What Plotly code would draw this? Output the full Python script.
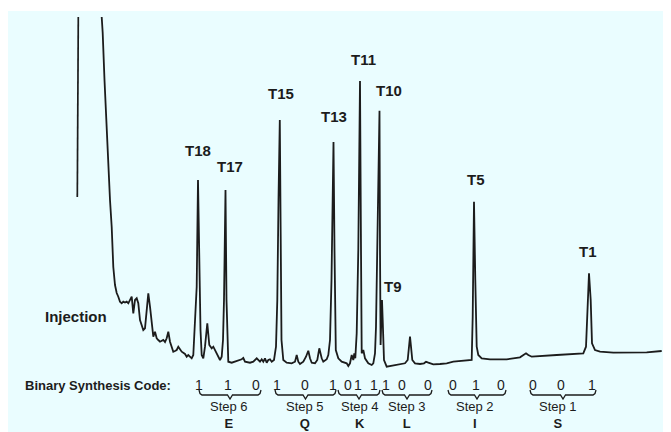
import plotly.graph_objects as go

# ---------------- data (retention position, detector signal) ----------------
time = [101.7, 102.7, 104.5, 106.7, 108.5, 110, 111.7, 113.3, 115, 116.7, 118.3, 120, 121.7, 123.3, 125,
        126.7, 128.3, 130, 131.7, 133.3, 135, 136.7, 138.3, 140, 141.7, 143.3, 145, 146.7, 148.3, 150,
        151.7, 153.3, 155, 156.7, 158.3, 160, 163.3, 165, 166.7, 168.3, 170, 173.3, 175, 176.7, 178.3,
        180, 181.7, 185, 186.7, 188.3, 191.7, 193.3, 195, 196.7, 198, 199.3, 200.5, 201.7, 203.3, 205,
        207.3, 209.3, 211.7, 213.3, 216.7, 220, 221.7, 223, 224, 225.5, 226.5, 227.3, 228.3, 231.7, 235,
        238.3, 241.7, 243.3, 245, 250, 253.3, 256.7, 258.3, 260, 261.7, 263.3, 265, 266.7, 268.3, 270,
        271.7, 274, 276, 277.3, 278.5, 279.8, 280.8, 281.5, 283.3, 286.7, 291.7, 295, 296.7, 298.3, 300,
        303.3, 306, 308.3, 310, 311.7, 315, 317.3, 319.3, 320.7, 321.7, 323.3, 326.7, 328.3, 330, 331.5,
        333.5, 334.5, 335, 335.8, 338.3, 341.7, 346.7, 348.3, 350, 351.7, 353.3, 354.3, 355.3, 356.7,
        358.3, 360, 361, 361.5, 361.7, 363.3, 365, 368.3, 371.7, 373.3, 375, 376, 377.5, 379.5, 380,
        380.6, 381.3, 382, 382.7, 383.5, 384, 386.7, 390, 395, 400, 405, 407.7, 409, 410, 411, 412.3,
        415, 420, 424, 426, 428.3, 433.3, 440, 446.7, 453.3, 460, 465, 468.3, 471.7, 472.7, 474, 475.3,
        476.7, 478.3, 481.7, 490, 506.7, 520, 523.3, 526, 528.3, 531.7, 556.7, 583.3, 586, 587.7, 589,
        590.7, 592, 595, 600, 613.3, 630, 646.7, 661.7]
signal = [415, 399, 352, 299, 262, 232, 205, 165, 147, 139, 135.3, 130.3, 128.7, 130.3, 129.5,
          130.3, 128.7, 132, 135.3, 118.7, 132, 133.7, 128.7, 112, 106, 102, 103.7, 122, 138.7, 125.3,
          108.7, 95.3, 100.3, 93.7, 92, 90.3, 92, 90, 93.7, 100.3, 90.3, 80.3, 81, 82, 85.3,
          83, 80.3, 78, 75.3, 77, 73.7, 77, 108.7, 145.3, 252, 145.3, 102, 77, 73.7, 85.3,
          108.7, 87, 83.7, 85.3, 78.7, 72, 75.3, 92, 132, 242, 132, 87, 70.3, 69.3, 70.3,
          71.3, 72.7, 74, 70.3, 69.3, 70.3, 73.7, 72, 70.3, 72.7, 70.3, 73.7, 69.3, 72, 72.7,
          70.3, 72, 85.3, 132, 232, 312, 182, 92, 72, 69.3, 68.7, 70.3, 77, 70.3, 68,
          70.3, 75.3, 81.3, 73.7, 69.3, 68.7, 72, 83.7, 75.3, 73.7, 70.3, 72.7, 77, 92, 152,
          290, 182, 102, 82, 73.7, 70.3, 68.7, 66, 68.7, 77, 72, 78.7, 73.7, 98.7,
          182, 351, 182, 95.3, 78.7, 82, 73.7, 68.7, 67, 68.7, 78.7, 105.3, 182, 321.3, 182,
          87, 112, 132, 112, 82, 72, 65.3, 66, 67, 67.7, 68.7, 72, 85.3, 95.3, 85.3, 72,
          68.7, 68, 68.7, 70.3, 69.3, 67.7, 68, 68.7, 70.3, 71, 71, 72, 72, 115.3, 230.3, 152,
          85.3, 77, 73.7, 72.7, 72.7, 74.7, 77, 78.7, 77, 75.3, 77, 78.7, 85.3, 132, 158.7,
          132, 88.7, 82, 80.3, 79.3, 79.3, 79.7, 81]

# injection mark
inj_time = [78.3, 77.3]
inj_signal = [415, 235]

# peak labels
peak_names = ["T18", "T17", "T15", "T13", "T11", "T10", "T9", "T5", "T1"]
peak_time = [198.3, 229.5, 280.5, 333.7, 363.5, 388.7, 393, 476.3, 588]
peak_label_signal = [282, 266, 338.5, 316, 373, 341.7, 145.5, 252.5, 181]

# binary synthesis code (digit, position, anchor)
code_digits = ["1", "1", "0", "1", "0", "1", "0", "1", "1", "1", "0", "0", "0", "1", "0", "0", "0", "1"]
code_time = [199, 228, 256, 277, 305, 333, 348, 358, 379.5, 379.5, 402, 428, 453, 476, 501, 533, 561, 592]
code_anchor = ["center"] * 8 + ["right", "left"] + ["center"] * 8

# synthesis steps
step_names = ["Step 6", "Step 5", "Step 4", "Step 3", "Step 2", "Step 1"]
step_residues = ["E", "Q", "K", "L", "I", "S"]
step_start = [199, 275, 338, 382, 448, 530]
step_end = [261, 336, 380, 432, 506, 596]
step_label_time = [229, 305, 360, 406.5, 475, 558]

# ---------------- figure ----------------
INK = "#1c1c1c"
FONT = "Liberation Sans, Arial, Helvetica, sans-serif"
fig = go.Figure()

fig.add_trace(go.Scatter(x=time, y=signal, mode="lines",
                         line=dict(color=INK, width=1.8), hoverinfo="skip"))
fig.add_trace(go.Scatter(x=inj_time, y=inj_signal, mode="lines",
                         line=dict(color=INK, width=1.7), hoverinfo="skip"))

# braces
for x0, x1 in zip(step_start, step_end):
    xc = (x0 + x1) / 2
    bx = [x0, x0 + 1, x0 + 3, xc - 2.5, xc, xc + 2.5, x1 - 3, x1 - 1, x1]
    by = [42, 38.5, 37, 37, 33, 37, 37, 38.5, 42]
    fig.add_trace(go.Scatter(x=bx, y=by, mode="lines", line=dict(color=INK, width=1.3),
                             hoverinfo="skip"))

ann = []
for name, t, s in zip(peak_names, peak_time, peak_label_signal):
    ann.append(dict(x=t, y=s, text="<b>%s</b>" % name, showarrow=False,
                    font=dict(size=15, color=INK, family=FONT)))
ann.append(dict(x=75.5, y=116, text="<b>Injection</b>", showarrow=False,
                font=dict(size=15, color=INK, family=FONT)))
ann.append(dict(x=98, y=47, text="<b>Binary Synthesis Code:</b>", showarrow=False,
                font=dict(size=13, color=INK, family=FONT)))
for d, t, a in zip(code_digits, code_time, code_anchor):
    ann.append(dict(x=t, y=47, text=d, showarrow=False, xanchor=a,
                    font=dict(size=14, color=INK, family=FONT)))
for n, r, t in zip(step_names, step_residues, step_label_time):
    ann.append(dict(x=t, y=0.5, yanchor="bottom", text="%s<br><b>%s</b>" % (n, r),
                    showarrow=False, borderpad=0,
                    font=dict(size=13, color=INK, family=FONT)))

# The page body adds an 8 px offset, so the figure is 663x424 and starts at (8, 8).
fig.update_layout(
    width=663, height=424,
    margin=dict(l=0, r=0, t=3, b=0),
    paper_bgcolor="white", plot_bgcolor="#EAFDFF",
    showlegend=False,
    xaxis=dict(range=[8, 671], visible=False, fixedrange=True),
    yaxis=dict(range=[0, 421], visible=False, fixedrange=True),
    annotations=ann,
)
fig.write_html("out.html")
